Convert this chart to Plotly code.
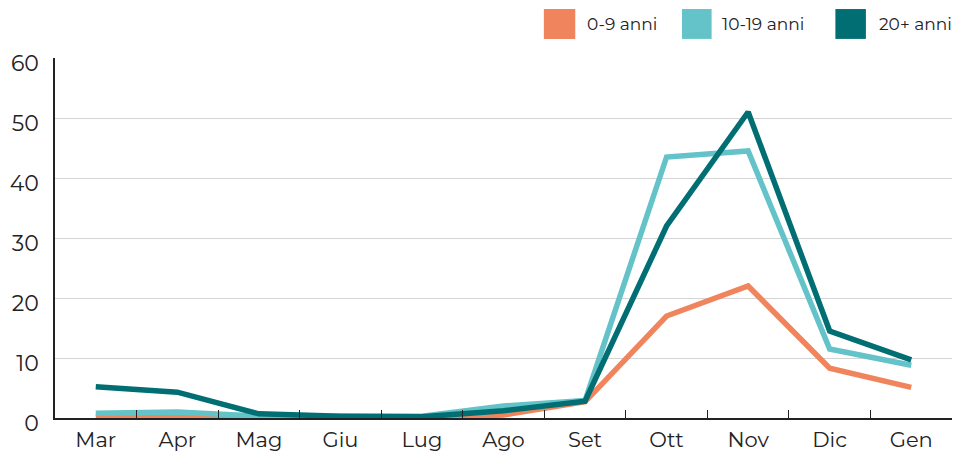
import plotly.graph_objects as go

months = ["Mar", "Apr", "Mag", "Giu", "Lug", "Ago", "Set", "Ott", "Nov", "Dic", "Gen"]
age_0_9 = [0.2, 0.4, 0.1, 0.0, 0.0, 0.5, 2.7, 17.0, 22.0, 8.3, 5.1]
age_10_19 = [0.8, 1.0, 0.3, 0.2, 0.3, 2.0, 2.9, 43.5, 44.5, 11.5, 8.8]
age_20_plus = [5.2, 4.3, 0.7, 0.3, 0.2, 1.2, 2.8, 32.0, 51.0, 14.5, 9.7]

series_names = ["0-9 anni", "10-19 anni", "20+ anni"]
colors = ["#F0845C", "#63C3C8", "#006E73"]
y_ticks = [0, 10, 20, 30, 40, 50, 60]

FONT = "Montserrat, Lato, 'Noto Sans', sans-serif"

fig = go.Figure()
for name, vals, col in zip(series_names, [age_0_9, age_10_19, age_20_plus], colors):
    fig.add_trace(go.Scatter(
        x=months, y=vals, name=name, mode="lines",
        line=dict(color=col, width=5.5), showlegend=False,
    ))

# square legend swatches with labels, top right
swatch_x = [(0.545, 0.580, 0.591), (0.699, 0.732, 0.741), (0.870, 0.904, 0.916)]
for (x0, x1, tx), name, col in zip(swatch_x, series_names, colors):
    fig.add_shape(type="rect", xref="paper", yref="paper",
                  x0=x0, x1=x1, y0=1.053, y1=1.136,
                  fillcolor=col, line=dict(width=0), layer="above")
    fig.add_annotation(xref="paper", yref="paper", x=tx, y=1.094,
                       text=name, showarrow=False, xanchor="left", yanchor="middle",
                       font=dict(family=FONT, size=17, color="#222"))

fig.update_layout(
    width=960, height=455,
    margin=dict(l=55, r=8, t=58, b=37),
    paper_bgcolor="white", plot_bgcolor="white",
    font=dict(family=FONT, color="#222"),
)
fig.update_xaxes(
    type="category", categoryorder="array", categoryarray=months,
    range=[-0.5, len(months) - 0.5], automargin=False,
    showline=True, linecolor="#222", linewidth=1.5,
    ticks="inside", ticklen=8, tickcolor="#222", tickson="boundaries",
    ticklabelstandoff=2,
    showgrid=False, tickfont=dict(size=21, family=FONT, color="#222"),
)
fig.update_yaxes(
    range=[0, 60], tickvals=y_ticks, ticktext=[str(v) for v in y_ticks],
    automargin=False,
    showline=True, linecolor="#222", linewidth=1.5,
    showgrid=True, gridcolor="#d4d4d4", gridwidth=1,
    zeroline=False, ticks="", ticklabelstandoff=10, ticklabelshift=5,
    tickfont=dict(size=22, family=FONT, color="#222"),
)

fig.write_html("out.html")
